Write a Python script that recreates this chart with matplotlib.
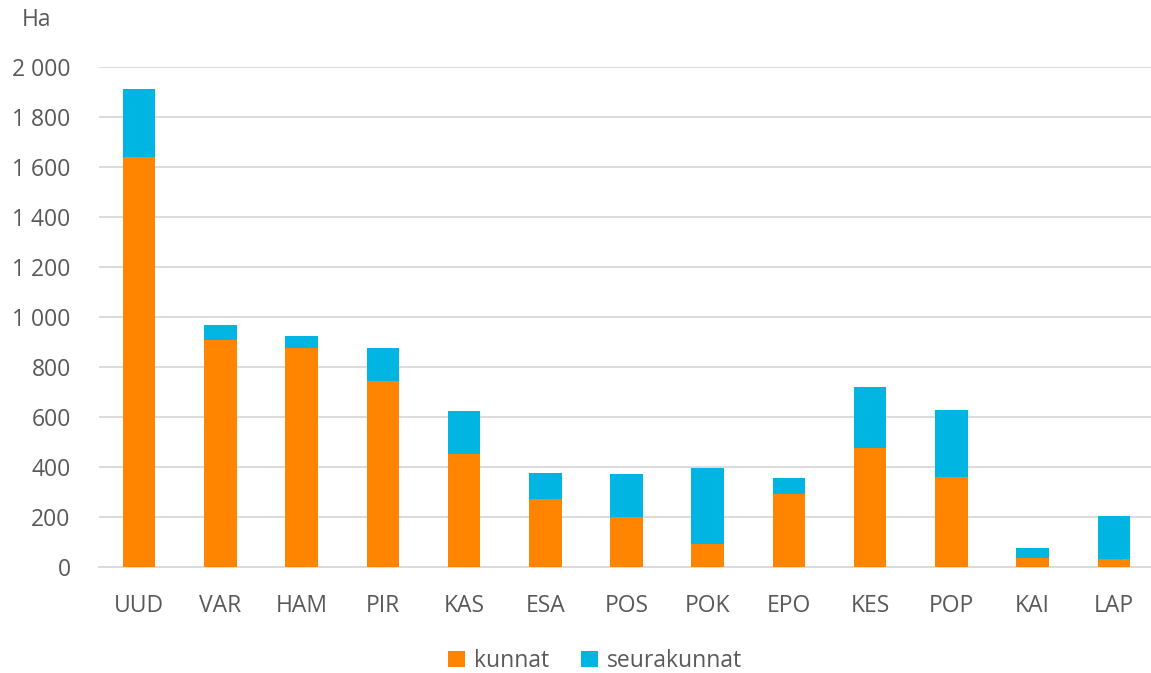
import matplotlib
matplotlib.use("Agg")
import matplotlib.pyplot as plt
from matplotlib.ticker import FuncFormatter, MultipleLocator

regions = ["UUD", "VAR", "HAM", "PIR", "KAS", "ESA", "POS", "POK", "EPO", "KES", "POP", "KAI", "LAP"]
kunnat = [1638, 908, 873, 743, 451, 272, 198, 91, 291, 475, 357, 33, 29]
seurakunnat = [272, 57, 48, 130, 173, 104, 173, 302, 62, 245, 268, 40, 175]

ORANGE = "#FF8400"
BLUE = "#00B5E2"
TEXT = "#595959"

plt.rcParams["font.family"] = ["Open Sans", "DejaVu Sans"]

W, H = 1151, 673
fig = plt.figure(figsize=(W / 100, H / 100), dpi=100)
# axes box in pixel units
left, right, top, bottom = 98.5, 1154.5, 66.7, 566.7
ax = fig.add_axes([left / W, (H - bottom) / H, (right - left) / W, (bottom - top) / H])

x = range(len(regions))
ax.bar(x, kunnat, width=0.4, color=ORANGE, label="kunnat", zorder=3)
ax.bar(x, seurakunnat, width=0.4, bottom=kunnat, color=BLUE, label="seurakunnat", zorder=3)

ax.set_xlim(-0.5, len(regions) - 0.5)
ax.set_ylim(0, 2000)
ax.yaxis.set_major_locator(MultipleLocator(200))
ax.yaxis.set_major_formatter(FuncFormatter(lambda v, p: f"{int(v):,}".replace(",", " ")))
ax.grid(axis="y", color="#D9D9D9", linewidth=1.3, zorder=0)
ax.set_axisbelow(True)

for s in ["top", "right", "left"]:
    ax.spines[s].set_visible(False)
ax.spines["bottom"].set_color("#D9D9D9")
ax.spines["bottom"].set_linewidth(1.3)

ax.set_xticks(list(x))
ax.set_xticklabels(regions)
ax.tick_params(axis="both", length=0, labelsize=16.5, labelcolor=TEXT)
ax.tick_params(axis="y", pad=20)
ax.tick_params(axis="x", pad=20)

fig.text(22 / W, 1 - 20 / H, "Ha", fontsize=16.5, color=TEXT, va="center", ha="left")

fig.legend(loc="center", bbox_to_anchor=(595 / W, 1 - 661 / H), ncol=2, frameon=False,
           fontsize=16.5, labelcolor=TEXT, handlelength=0.72, handleheight=0.72,
           handletextpad=0.4, columnspacing=1.4)

fig.savefig("out.png", dpi=100)
